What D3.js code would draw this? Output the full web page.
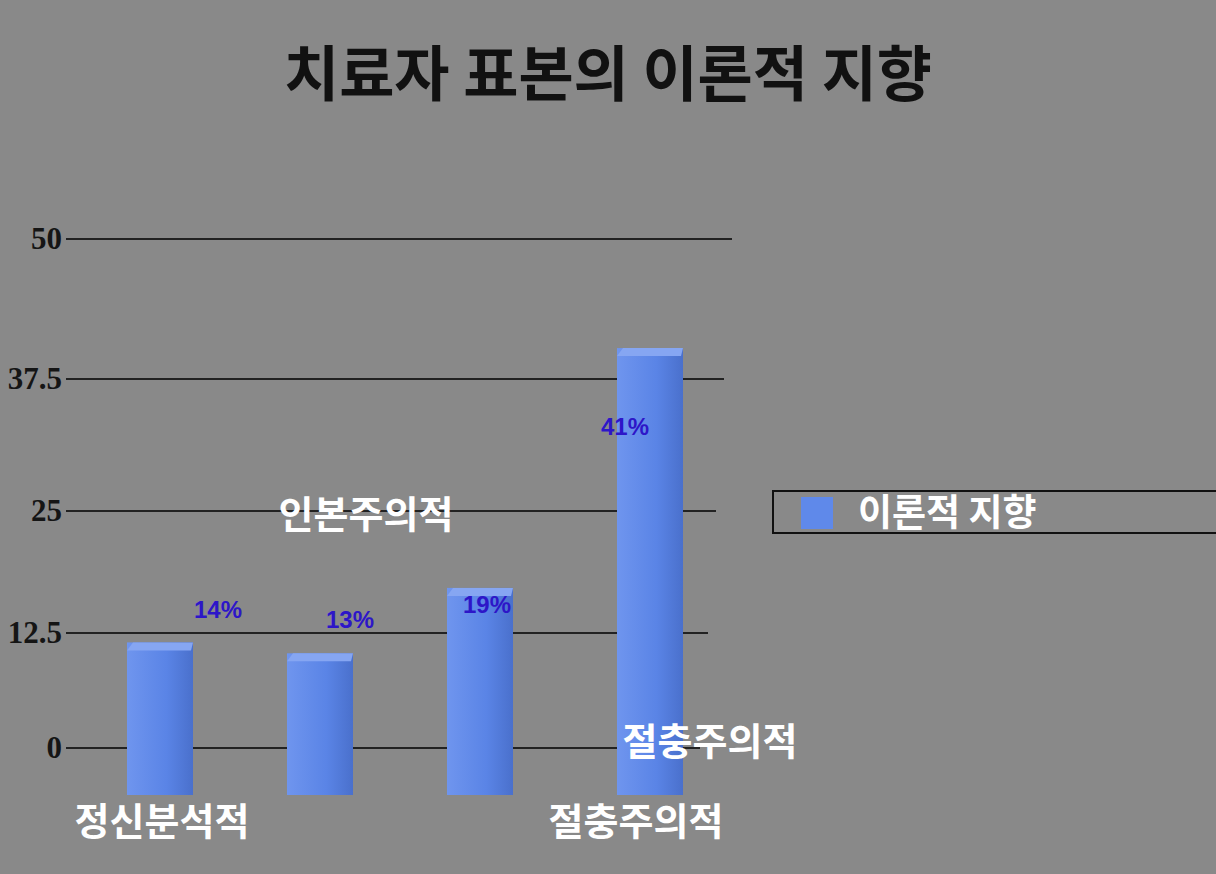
<!DOCTYPE html><html><head><meta charset="utf-8"><script src="https://cdn.jsdelivr.net/npm/d3@7"></script>
<style>body{margin:0;background:#898989}</style></head><body><svg id="c" width="1216" height="874"></svg>
<script>
const categories=["정신분석적","인본주의적","절충주의적","절충주의적"];
const values=[14,13,19,41];
const pctLabels=["14%","13%","19%","41%"];
const ticks=[0,12.5,25,37.5,50];
const tickLabels=["0","12.5","25","37.5","50"];
const svg=d3.select("#c");
svg.append("rect").attr("width",1216).attr("height",874).attr("fill","#898989");
const defs=svg.append("defs");
const g=defs.append("linearGradient").attr("id","bg").attr("x1",0).attr("x2",1);
g.append("stop").attr("offset",0).attr("stop-color","#6f95ee");
g.append("stop").attr("offset",0.6).attr("stop-color","#5a84e6");
g.append("stop").attr("offset",1).attr("stop-color","#4a70cc");
svg.append("text").attr("x",608).attr("y",96).attr("text-anchor","middle").attr("font-family","Noto Sans CJK KR").attr("font-weight","bold").attr("font-size",60).attr("fill","#111").text("치료자 표본의 이론적 지향");
const yGrid=d3.scaleLinear().domain(ticks).range([748,633,511,379,239]);
const gridEnd=d3.scaleLinear().domain([0,50]).range([700,732]);
ticks.forEach((t,i)=>{
 svg.append("line").attr("x1",66).attr("x2",gridEnd(t)).attr("y1",yGrid(t)).attr("y2",yGrid(t)).attr("stroke","#222").attr("stroke-width",2);
 svg.append("text").attr("x",62).attr("y",yGrid(t)+10).attr("text-anchor","end").attr("font-family","Liberation Serif").attr("font-weight","bold").attr("font-size",31).attr("fill","#151515").text(tickLabels[i]);
});
const x=d3.scaleOrdinal().domain(d3.range(4)).range([160,320,480,650]);
const yBar=d3.scaleLinear().domain([0,50]).range([795,250]);
const w=66;
values.forEach((v,i)=>{
 const cx=x(i);
 svg.append("rect").attr("x",cx-w/2).attr("y",yBar(v)).attr("width",w).attr("height",yBar(0)-yBar(v)).attr("fill","url(#bg)");
 svg.append("path").attr("d",`M${cx-w/2},${yBar(v)+8} L${cx-w/2+6},${yBar(v)} L${cx+w/2},${yBar(v)} L${cx+w/2-2},${yBar(v)+8}Z`).attr("fill","#86a6f2");
});
const pctPos=[[218,610],[350,620],[487,605],[625,427]];
pctLabels.forEach((p,i)=>svg.append("text").attr("x",pctPos[i][0]).attr("y",pctPos[i][1]+8).attr("text-anchor","middle").attr("font-family","Liberation Sans").attr("font-weight","bold").attr("font-size",24).attr("fill","#2d16c8").text(p));
const catPos=[[162,822],[366,515],[636,822]];
[0,1,3].forEach((ci,k)=>svg.append("text").attr("x",catPos[k][0]).attr("y",catPos[k][1]+13).attr("text-anchor","middle").attr("font-family","Noto Sans CJK KR").attr("font-weight","bold").attr("font-size",38).attr("fill","#fff").text(categories[ci]));
svg.append("text").attr("x",710).attr("y",755).attr("text-anchor","middle").attr("font-family","Noto Sans CJK KR").attr("font-weight","bold").attr("font-size",38).attr("fill","#fff").text(categories[2]);
svg.append("rect").attr("x",773).attr("y",491).attr("width",460).attr("height",42).attr("fill","none").attr("stroke","#111").attr("stroke-width",2);
svg.append("rect").attr("x",801).attr("y",497).attr("width",32).attr("height",32).attr("fill","#5f89ea");
svg.append("text").attr("x",858).attr("y",526).attr("font-family","Noto Sans CJK KR").attr("font-weight","bold").attr("font-size",37).attr("fill","#fff").text("이론적 지향");
</script></body></html>
